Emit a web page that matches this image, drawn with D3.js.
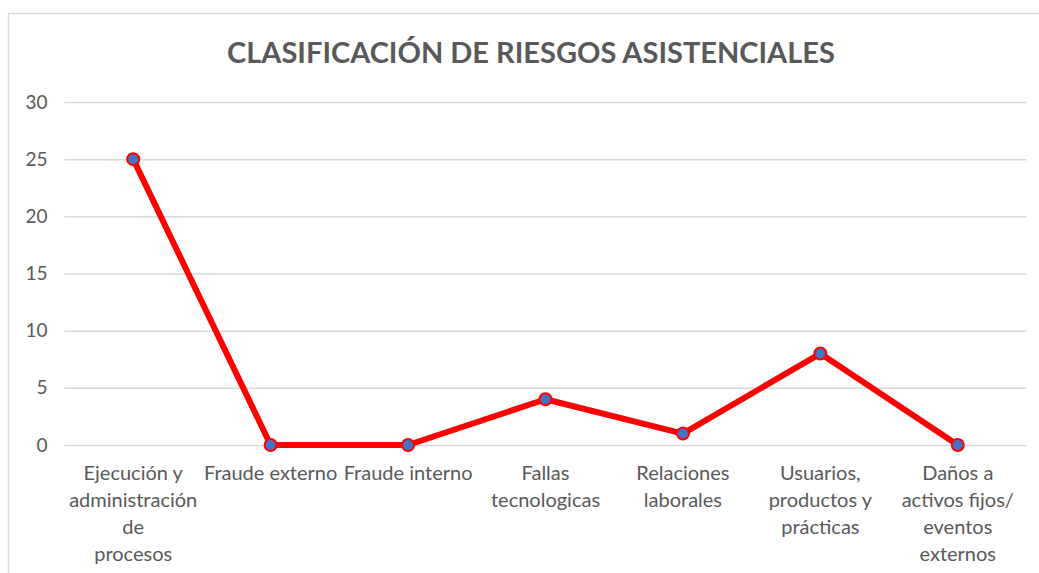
<!DOCTYPE html>
<html><head><meta charset="utf-8">
<script src="https://cdn.jsdelivr.net/npm/d3@7"></script>
<style>body{margin:0;background:#fff;overflow:hidden}svg{display:block}</style>
</head><body>
<script>
const title = "CLASIFICACIÓN DE RIESGOS ASISTENCIALES";
const categories = [
  ["Ejecución y","administración","de","procesos"],
  ["Fraude externo"],
  ["Fraude interno"],
  ["Fallas","tecnologicas"],
  ["Relaciones","laborales"],
  ["Usuarios,","productos y","prácticas"],
  ["Daños a","activos fijos/","eventos","externos"]
];
const values = [25, 0, 0, 4, 1, 8, 0];
const yTicks = [0, 5, 10, 15, 20, 25, 30];

const W = 1039, H = 573;
const font = "Lato, 'Open Sans', sans-serif";
const svg = d3.select("body").append("svg").attr("width", W).attr("height", H);

svg.append("rect").attr("x", 8.5).attr("y", 13.5).attr("width", 1100).attr("height", 700)
  .attr("fill", "#fff").attr("stroke", "#d9d9d9").attr("stroke-width", 1.5);

const x = d3.scaleBand().domain(d3.range(categories.length)).range([64.5, 1026.5]);
const y = d3.scaleLinear().domain([0, 30]).range([445, 102]);

const yAxis = d3.axisLeft(y).tickValues(yTicks).tickSize(-(1026.5 - 64.5)).tickPadding(17);
const ga = svg.append("g").attr("transform", "translate(64.5,0)").call(yAxis);
ga.select(".domain").remove();
ga.selectAll(".tick line").attr("stroke", "#d9d9d9").attr("stroke-width", 1.5);
ga.selectAll(".tick text").attr("fill", "#595959").style("font-family", font).style("font-size", "19px");

const xl = svg.append("g");
categories.forEach((lines, i) => {
  const t = xl.append("text").attr("x", x(i) + x.bandwidth() / 2).attr("y", 480)
    .attr("text-anchor", "middle").attr("fill", "#595959")
    .style("font-family", font).style("font-size", "20px");
  lines.forEach((ln, j) => t.append("tspan").attr("x", x(i) + x.bandwidth() / 2).attr("dy", j === 0 ? 0 : 27).text(ln));
});

svg.append("text").attr("x", 531).attr("y", 63).attr("text-anchor", "middle")
  .attr("fill", "#595959").style("font-family", font).style("font-weight", "bold").style("font-size", "29px")
  .text(title);

const line = d3.line().x((d, i) => x(i) + x.bandwidth() / 2).y(d => y(d));
svg.append("path").datum(values).attr("d", line).attr("fill", "none")
  .attr("stroke", "#ff0000").attr("stroke-width", 6).attr("stroke-linejoin", "round");

svg.selectAll("circle.pt").data(values).join("circle").attr("class", "pt")
  .attr("cx", (d, i) => x(i) + x.bandwidth() / 2).attr("cy", d => y(d)).attr("r", 6)
  .attr("fill", "#4472c4").attr("stroke", "#ff0000").attr("stroke-width", 2);
</script>
</body></html>
